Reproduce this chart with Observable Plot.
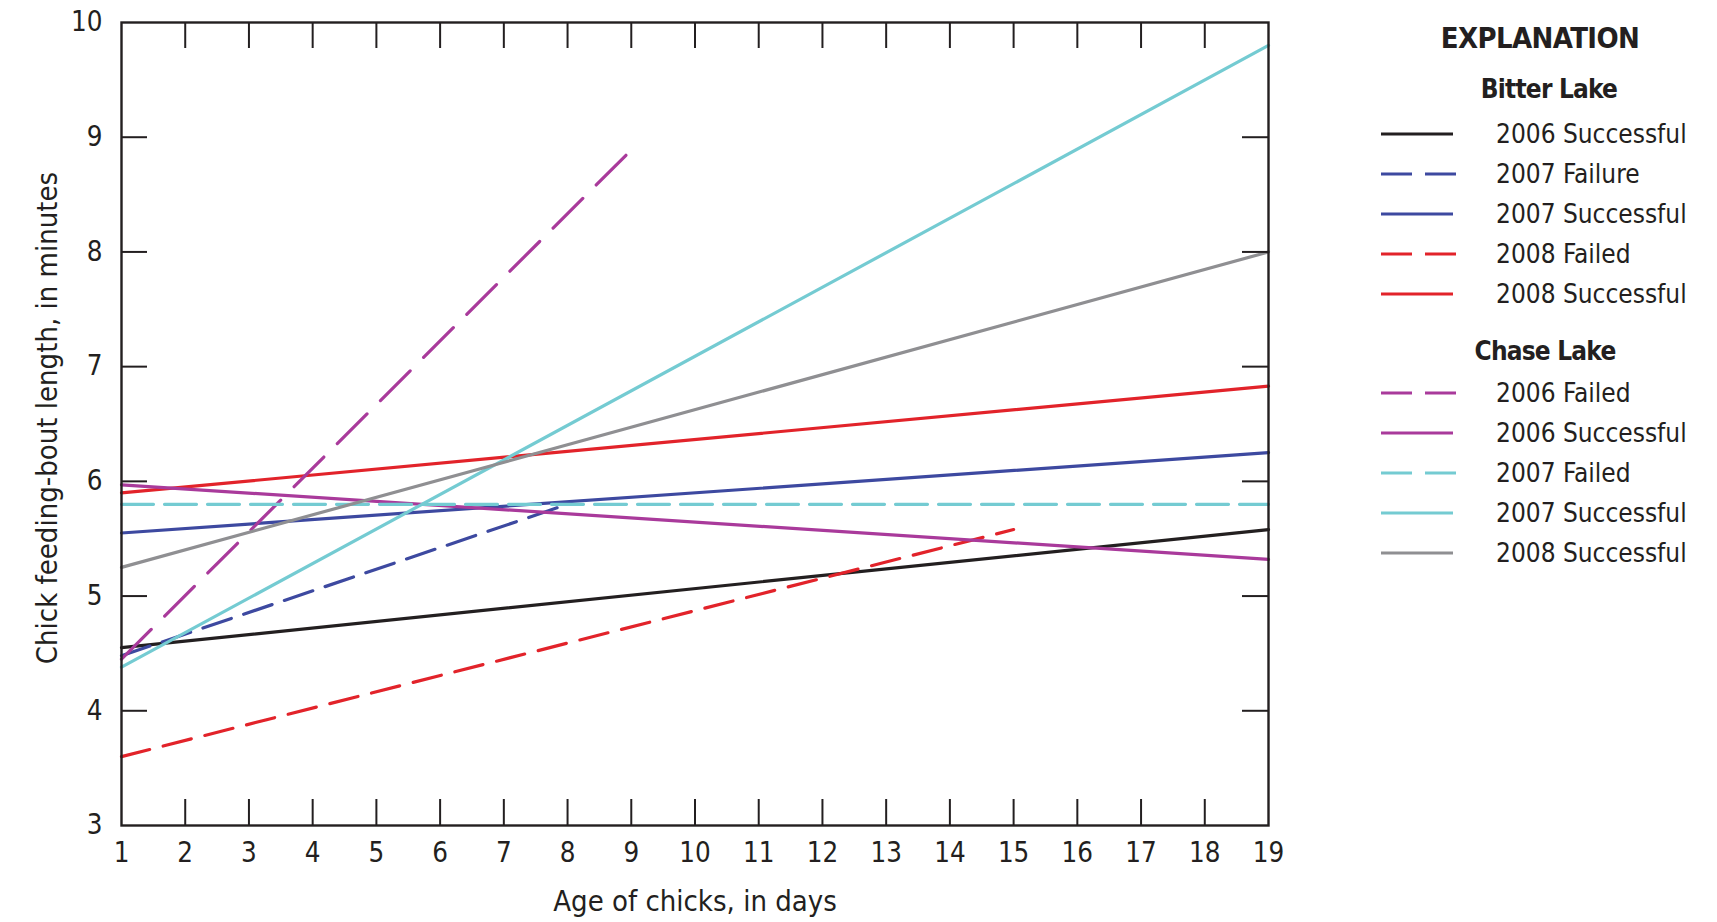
<!DOCTYPE html>
<html><head><meta charset="utf-8">
<script src="https://cdn.jsdelivr.net/npm/d3@7"></script>
<script src="https://cdn.jsdelivr.net/npm/@observablehq/plot@0.6"></script>
<style>
html,body{margin:0;padding:0;background:#fff;}
body{width:1717px;height:922px;overflow:hidden;position:relative;font-family:"DejaVu Sans Condensed","DejaVu Sans",sans-serif;font-stretch:condensed;color:#231f20;}
#chart{position:absolute;left:0;top:0;}
.lg{position:absolute;white-space:nowrap;line-height:1;transform:translateY(-50%);}
.hd{font-weight:bold;transform:translate(-50%,-50%);}
</style></head><body>
<div id="chart"></div>
<div id="legend"></div>
<script>
// ---- data ----
const lakes = ["Bitter Lake", "Chase Lake"];
const seriesLake = ["Bitter Lake","Bitter Lake","Bitter Lake","Bitter Lake","Bitter Lake",
                    "Chase Lake","Chase Lake","Chase Lake","Chase Lake","Chase Lake"];
const seriesLabel = ["2006 Successful","2007 Failure","2007 Successful","2008 Failed","2008 Successful",
                     "2006 Failed","2006 Successful","2007 Failed","2007 Successful","2008 Successful"];
const startDay = [1, 1, 1, 1, 1, 1, 1, 1, 1, 1];
const endDay   = [19, 8, 19, 15, 19, 9.02, 19, 19, 19, 19];
const startMinutes = [4.55, 4.48, 5.55, 3.60, 5.90, 4.45, 5.97, 5.80, 4.38, 5.25];
const endMinutes   = [5.58, 5.80, 6.25, 5.58, 6.83, 8.90, 5.32, 5.80, 9.80, 8.00];
const xTickLabels = [1,2,3,4,5,6,7,8,9,10,11,12,13,14,15,16,17,18,19];
const yTickLabels = [3,4,5,6,7,8,9,10];
const xTitle = "Age of chicks, in days";
const yTitle = "Chick feeding-bout length, in minutes";

// ---- styles (not data) ----
const seriesStyle = [
  {stroke:"#231f20", dash:null},
  {stroke:"#3d49a0", dash:"30 13"},
  {stroke:"#3d49a0", dash:null},
  {stroke:"#e2232a", dash:"29 14"},
  {stroke:"#e2232a", dash:null},
  {stroke:"#a93a9b", dash:"42 19"},
  {stroke:"#a93a9b", dash:null},
  {stroke:"#74cbd2", dash:"32 11"},
  {stroke:"#74cbd2", dash:null},
  {stroke:"#8f8f92", dash:null}
];

const W = 1717, H = 922, ML = 121, MR = 449, MT = 22, MB = 97;
const xDomain = [1, 19], yDomain = [3, 10];
const tickPx = 26;
const tlx = tickPx * (xDomain[1]-xDomain[0]) / (W-ML-MR);
const tly = tickPx * (yDomain[1]-yDomain[0]) / (H-MT-MB);
const ink = "#231f20";
const FONT = '"DejaVu Sans Condensed","DejaVu Sans",sans-serif';

const rows = seriesLabel.flatMap((s, i) => [
  {id: i, day: startDay[i], minutes: startMinutes[i]},
  {id: i, day: endDay[i], minutes: endMinutes[i]}
]);

const innerX = xTickLabels.filter(d => d > xDomain[0] && d < xDomain[1]);
const innerY = yTickLabels.filter(d => d > yDomain[0] && d < yDomain[1]);

const lineMarks = seriesLabel.map((s, i) => Plot.line(rows.filter(r => r.id === i), {
  x: "day", y: "minutes", stroke: seriesStyle[i].stroke, strokeWidth: 3.2,
  strokeDasharray: seriesStyle[i].dash || undefined
}));

const chart = Plot.plot({
  width: W, height: H,
  marginLeft: ML, marginRight: MR, marginTop: MT, marginBottom: MB,
  style: {fontFamily: FONT, fontStretch: "condensed", color: ink, background: "transparent"},
  x: {domain: xDomain, label: null},
  y: {domain: yDomain, label: null},
  marks: [
    ...lineMarks,
    Plot.ruleX(innerX, {x: d => d, y1: yDomain[0], y2: yDomain[0] + tly, stroke: ink, strokeWidth: 2}),
    Plot.ruleX(innerX, {x: d => d, y1: yDomain[1] - tly, y2: yDomain[1], stroke: ink, strokeWidth: 2}),
    Plot.ruleY(innerY, {y: d => d, x1: xDomain[0], x2: xDomain[0] + tlx, stroke: ink, strokeWidth: 2}),
    Plot.ruleY(innerY, {y: d => d, x1: xDomain[1] - tlx, x2: xDomain[1], stroke: ink, strokeWidth: 2}),
    Plot.frame({stroke: ink, strokeWidth: 2.4}),
    Plot.axisX(xTickLabels, {anchor: "bottom", tickSize: 0, tickPadding: 17, fontSize: 27.5, label: null, fill: ink, tickFormat: d => String(d)}),
    Plot.axisY(yTickLabels, {anchor: "left", tickSize: 0, tickPadding: 19, fontSize: 27.5, label: null, fill: ink, tickFormat: d => String(d)}),
    Plot.text([xTitle], {frameAnchor: "bottom", text: d => d, dy: 76, fontSize: 29, lineAnchor: "middle", textAnchor: "middle", fill: ink}),
    Plot.text([yTitle], {frameAnchor: "left", text: d => d, dx: -74, dy: -6, rotate: -90, fontSize: 29, lineAnchor: "middle", textAnchor: "middle", fill: ink})
  ]
});
document.getElementById("chart").appendChild(chart);

// ---- legend (HTML) ----
const legend = document.getElementById("legend");
function addText(txt, x, y, cls, size, spacing) {
  const el = document.createElement("div");
  el.className = "lg " + cls;
  el.style.left = x + "px"; el.style.top = y + "px"; el.style.fontSize = size + "px";
  if (spacing) el.style.letterSpacing = spacing + "px";
  el.textContent = txt;
  legend.appendChild(el);
}
function addSwatch(i, x, y) {
  const ns = "http://www.w3.org/2000/svg";
  const svg = document.createElementNS(ns, "svg");
  svg.setAttribute("width", 80); svg.setAttribute("height", 8);
  svg.style.position = "absolute"; svg.style.left = x + "px"; svg.style.top = (y - 4) + "px";
  const ln = document.createElementNS(ns, "line");
  const st = seriesStyle[i];
  ln.setAttribute("x1", 0); ln.setAttribute("x2", st.dash ? 75 : 72);
  ln.setAttribute("y1", 4); ln.setAttribute("y2", 4);
  ln.setAttribute("stroke", st.stroke); ln.setAttribute("stroke-width", 3);
  if (st.dash) ln.setAttribute("stroke-dasharray", "31 13");
  svg.appendChild(ln);
  legend.appendChild(svg);
}
addText("EXPLANATION", 1540, 38, "hd", 29, -0.6);
const headerX = [1549, 1545];
const headerY = [89, 351];
const rowY0 = [134, 393];
lakes.forEach((lake, g) => {
  addText(lake, headerX[g], headerY[g], "hd", 26, -0.8);
  seriesLabel.map((s, i) => i).filter(i => seriesLake[i] === lake).forEach((i, k) => {
    const y = rowY0[g] + 40 * k;
    addSwatch(i, 1381, y);
    addText(seriesLabel[i], 1496, y, "", 26);
  });
});
</script>
</body></html>
